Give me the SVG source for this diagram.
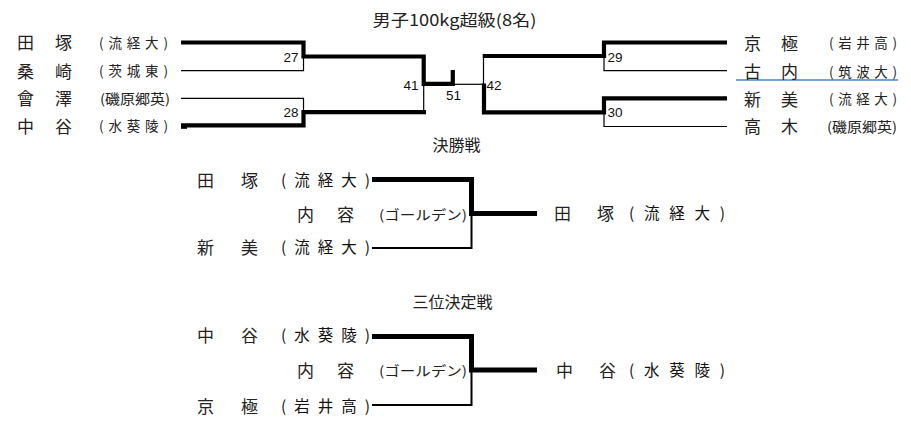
<svg xmlns="http://www.w3.org/2000/svg" width="911" height="422" viewBox="0 0 911 422">
<style>
.n{font-family:"Noto Sans CJK JP","Noto Sans",sans-serif;font-size:17px;fill:#222}
.p{font-family:"Noto Sans CJK JP","Noto Sans",sans-serif;font-size:13.5px;fill:#222}
.pf{font-family:"Noto Sans CJK JP","Noto Sans",sans-serif;font-size:15.5px;fill:#111}
.h{font-family:"Noto Sans CJK JP","Noto Sans",sans-serif;font-size:16px;fill:#222;text-anchor:middle}
.num{font-family:"Liberation Sans",Arial,sans-serif;font-size:13.5px;fill:#111}
.thick{fill:none;stroke:#000;stroke-width:4.2;stroke-linejoin:miter;stroke-linecap:butt}
.thin{fill:none;stroke:#000;stroke-width:1.2}
.fthick{fill:none;stroke:#000;stroke-width:5;stroke-linejoin:miter}
.fthin{fill:none;stroke:#000;stroke-width:2}
</style>
<rect width="911" height="422" fill="#fff"/>
<text class="h" x="454.5" y="26" textLength="164" lengthAdjust="spacingAndGlyphs">男子100kg超級(8名)</text>
<text class="h" x="456.5" y="151">決勝戦</text>
<text class="h" x="452.5" y="308">三位決定戦</text>
<g id="connectors">
<path class="thick" d="M181 42.5H303.5V56.5H423.7V83.8H452.8V70"/>
<path class="thin" d="M181 70.7H303.5V56.5"/>
<path class="thin" d="M181 98.3H303.5V112"/>
<path class="thick" d="M181 125.3H303.5V112.2H426"/>
<rect x="181" y="125" width="6" height="3.8" fill="#000"/>
<path class="thin" d="M423.7 112V84"/>
<path class="thin" d="M455 84.3H484"/>
<path class="thick" d="M482.7 56H604V42.5H727"/>
<path class="thin" d="M483.5 56V85"/>
<path class="thick" d="M484 83.5V112.3H604V98.3H727"/>
<path class="thin" d="M604 56.5V70.7H727"/>
<path class="thin" d="M604 112V126.5H727"/>
<path stroke="#4f81bd" stroke-width="1.5" d="M736 80H898"/>
<path class="fthick" d="M372 179.5H471.5V213.5H537"/>
<path class="fthin" d="M372 248H471.5V213"/>
<path class="fthick" d="M372 336.5H471.5V370H537"/>
<path class="fthin" d="M372 405H471.5V370"/>
</g>
<g id="labels">
<text class="num" x="298.5" y="61.7" text-anchor="end">27</text>
<text class="num" x="298.5" y="117.3" text-anchor="end">28</text>
<text class="num" x="418.5" y="90" text-anchor="end">41</text>
<text class="num" x="453.5" y="100" text-anchor="middle">51</text>
<text class="num" x="486.5" y="90">42</text>
<text class="num" x="607.5" y="61.7">29</text>
<text class="num" x="607.5" y="117.3">30</text>
</g>
<g id="node-tazuka">
<text class="n" x="17" y="49.2">田</text><text class="n" x="55" y="49.2">塚</text>
<text class="p" x="99" y="47.8" textLength="69" lengthAdjust="spacing">(流経大)</text>
</g>
<g id="node-kuwazaki">
<text class="n" x="17" y="77.8">桑</text><text class="n" x="55" y="77.8">崎</text>
<text class="p" x="99" y="76.3" textLength="69" lengthAdjust="spacing">(茨城東)</text>
</g>
<g id="node-aizawa">
<text class="n" x="17" y="104.8">會</text><text class="n" x="55" y="104.8">澤</text>
<text class="p" x="100" y="103.5" textLength="70" lengthAdjust="spacingAndGlyphs">(磯原郷英)</text>
</g>
<g id="node-nakaya">
<text class="n" x="17" y="132.5">中</text><text class="n" x="55" y="132.5">谷</text>
<text class="p" x="99" y="131" textLength="69" lengthAdjust="spacing">(水葵陵)</text>
</g>
<g id="node-kyogoku">
<text class="n" x="744" y="49.8">京</text><text class="n" x="781" y="49.8">極</text>
<text class="p" x="829" y="48.3" textLength="68" lengthAdjust="spacing">(岩井高)</text>
</g>
<g id="node-furuuchi">
<text class="n" x="744" y="78" fill="#223355">古</text><text class="n" x="781" y="78">内</text>
<text class="p" x="829" y="76.6" textLength="68" lengthAdjust="spacing">(筑波大)</text>
</g>
<g id="node-niimi">
<text class="n" x="744" y="105.8">新</text><text class="n" x="781" y="105.8">美</text>
<text class="p" x="829" y="104.3" textLength="68" lengthAdjust="spacing">(流経大)</text>
</g>
<g id="node-takagi">
<text class="n" x="744" y="133">高</text><text class="n" x="781" y="133">木</text>
<text class="p" x="827" y="131.6" textLength="70" lengthAdjust="spacingAndGlyphs">(磯原郷英)</text>
</g>
<g id="final-tazuka">
<text class="n" x="197" y="186.5">田</text><text class="n" x="241" y="186.5">塚</text>
<text class="pf" x="281" y="186" textLength="89" lengthAdjust="spacing">(流経大)</text>
</g>
<g id="final-content">
<text class="n" x="297" y="220.5">内</text><text class="n" x="337" y="220.5">容</text>
<text class="p" x="379" y="219.5" textLength="88" lengthAdjust="spacingAndGlyphs">(ゴールデン)</text>
</g>
<g id="final-niimi">
<text class="n" x="197" y="253.5">新</text><text class="n" x="241" y="253.5">美</text>
<text class="pf" x="281" y="253" textLength="89" lengthAdjust="spacing">(流経大)</text>
</g>
<g id="final-winner">
<text class="n" x="554" y="220">田</text><text class="n" x="597" y="220">塚</text>
<text class="pf" x="629" y="219.3" textLength="96" lengthAdjust="spacing">(流経大)</text>
</g>
<g id="third-nakaya">
<text class="n" x="197" y="341.5">中</text><text class="n" x="241" y="341.5">谷</text>
<text class="pf" x="281" y="341" textLength="89" lengthAdjust="spacing">(水葵陵)</text>
</g>
<g id="third-content">
<text class="n" x="297" y="376.5">内</text><text class="n" x="337" y="376.5">容</text>
<text class="p" x="379" y="375.5" textLength="88" lengthAdjust="spacingAndGlyphs">(ゴールデン)</text>
</g>
<g id="third-kyogoku">
<text class="n" x="197" y="412.5">京</text><text class="n" x="241" y="412.5">極</text>
<text class="pf" x="281" y="412" textLength="89" lengthAdjust="spacing">(岩井高)</text>
</g>
<g id="third-winner">
<text class="n" x="556" y="376.5">中</text><text class="n" x="599" y="376.5">谷</text>
<text class="pf" x="629" y="375.8" textLength="96" lengthAdjust="spacing">(水葵陵)</text>
</g>
</svg>
